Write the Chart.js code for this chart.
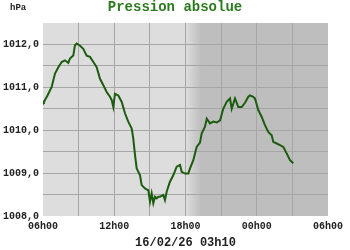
<!DOCTYPE html>
<html>
<head>
<meta charset="utf-8">
<script src="https://cdn.jsdelivr.net/npm/chart.js@4"></script>
<style>
    body { margin: 0; background: #ffffff; }
</style>
</head>
<body>
<canvas id="pressionChart" width="350" height="250"></canvas>
<script>
// Heures écoulées depuis 06h00 (16/02) et pression relevée (hPa)
const heures = [
    0.00, 0.08, 0.40, 0.73, 1.01, 1.29, 1.57, 1.85, 2.13, 2.27,
    2.55, 2.69, 2.84, 3.12, 3.39, 3.68, 3.96, 4.24, 4.52, 4.80,
    5.08, 5.36, 5.64, 5.79, 5.92, 6.06, 6.34, 6.63, 6.91, 7.18,
    7.47, 7.60, 7.75, 7.89, 8.17, 8.31, 8.59, 8.87, 9.01, 9.15,
    9.29, 9.43, 9.58, 9.71, 9.85, 10.13, 10.27, 10.42, 10.69, 10.97,
    11.26, 11.54, 11.68, 11.96, 12.24, 12.38, 12.66, 12.94, 13.22, 13.36,
    13.64, 13.79, 14.06, 14.34, 14.63, 14.91, 15.18, 15.47, 15.75, 15.89,
    16.17, 16.45, 16.73, 17.01, 17.29, 17.43, 17.71, 17.85, 18.13, 18.42,
    18.69, 18.97, 19.26, 19.39, 19.68, 19.96, 20.24, 20.52, 20.80, 21.08
];
const pression = [
    1010.68, 1010.66, 1010.82, 1011.01, 1011.32, 1011.47, 1011.59, 1011.63, 1011.57, 1011.67,
    1011.74, 1011.98, 1012.02, 1011.97, 1011.90, 1011.74, 1011.71, 1011.59, 1011.47, 1011.20,
    1011.05, 1010.89, 1010.78, 1010.70, 1010.54, 1010.85, 1010.81, 1010.66, 1010.39, 1010.20,
    1010.04, 1009.81, 1009.42, 1009.11, 1008.95, 1008.72, 1008.64, 1008.60, 1008.33, 1008.53,
    1008.30, 1008.45, 1008.41, 1008.45, 1008.45, 1008.49, 1008.37, 1008.57, 1008.80, 1008.95,
    1009.15, 1009.19, 1009.03, 1008.99, 1008.99, 1009.11, 1009.30, 1009.61, 1009.71, 1009.92,
    1010.08, 1010.27, 1010.16, 1010.20, 1010.18, 1010.23, 1010.50, 1010.66, 1010.74, 1010.50,
    1010.74, 1010.54, 1010.54, 1010.64, 1010.78, 1010.81, 1010.78, 1010.74, 1010.47, 1010.31,
    1010.12, 1009.96, 1009.88, 1009.73, 1009.69, 1009.65, 1009.61, 1009.46, 1009.30, 1009.23
];
// Étiquettes de l'axe horizontal (toutes les 6 heures)
const etiquettesHeures = ["06h00", "12h00", "18h00", "00h00", "06h00"];

const titre = "Pression absolue";
const unite = "hPa";
const horodatage = "16/02/26 03h10";

// Début de la nuit (heures depuis 06h00) et largeur du dégradé
const debutNuit = 12;
const fonduNuit = 1.3;

const police = "'Liberation Mono', 'DejaVu Sans Mono', monospace";

// Fond gris : clair le jour, plus sombre la nuit
const fondPlugin = {
    id: "fond",
    beforeDraw(chart) {
        const { ctx, chartArea: a, scales } = chart;
        const x1 = scales.x.getPixelForValue(debutNuit);
        const x2 = scales.x.getPixelForValue(debutNuit + fonduNuit);
        const grad = ctx.createLinearGradient(x1, 0, x2, 0);
        grad.addColorStop(0, "#dddddd");
        grad.addColorStop(1, "#bebebe");
        ctx.save();
        ctx.fillStyle = grad;
        ctx.fillRect(a.left, a.top, a.right - a.left, a.bottom - a.top);
        ctx.restore();
    },
    afterDraw(chart) {
        const { ctx } = chart;
        ctx.save();
        ctx.textBaseline = "alphabetic";
        ctx.textAlign = "center";
        ctx.fillStyle = "#2b7a1f";
        ctx.font = "bold 14px " + police;
        ctx.fillText(titre, 175, 11);
        ctx.textAlign = "left";
        ctx.fillStyle = "#222222";
        ctx.font = "bold 9px " + police;
        ctx.fillText(unite, 10, 10);
        ctx.restore();
    }
};

const points = heures.map((h, i) => ({ x: h, y: pression[i] }));

new Chart(document.getElementById("pressionChart"), {
    type: "line",
    data: {
        datasets: [{
            data: points,
            borderColor: "#1b5c0e",
            borderWidth: 2,
            pointRadius: 0,
            tension: 0,
            fill: false
        }]
    },
    options: {
        responsive: false,
        animation: false,
        devicePixelRatio: 1,
        layout: { padding: { top: 23, right: 22, left: 0, bottom: 0 } },
        plugins: {
            legend: { display: false },
            title: { display: false },
            tooltip: { enabled: false }
        },
        scales: {
            x: {
                type: "linear",
                min: 0,
                max: 24,
                afterFit(scale) { scale.height = 34; },
                border: { display: false },
                grid: {
                    drawTicks: false,
                    color: (c) => (c.index === 0 || c.index === 8) ? "rgba(0,0,0,0)" : "#a6a6a6"
                },
                ticks: {
                    stepSize: 3,
                    autoSkip: false,
                    maxRotation: 0,
                    padding: 4,
                    color: "#222222",
                    font: { family: police, size: 10, weight: "bold" },
                    callback: (v) => (v % 6 === 0) ? etiquettesHeures[v / 6] : ""
                },
                title: {
                    display: true,
                    text: horodatage,
                    color: "#222222",
                    padding: { top: 0, bottom: 0 },
                    font: { family: police, size: 12, weight: "bold" }
                }
            },
            y: {
                min: 1008,
                max: 1012.5,
                afterFit(scale) { scale.width = 43; },
                border: { display: false },
                grid: {
                    drawTicks: false,
                    color: (c) => (c.index === 0 || c.index === 9) ? "rgba(0,0,0,0)" : "#a6a6a6"
                },
                ticks: {
                    stepSize: 0.5,
                    padding: 4,
                    color: "#222222",
                    font: { family: police, size: 10, weight: "bold" },
                    callback: (v) => Number.isInteger(v) ? v.toFixed(1).replace(".", ",") : ""
                }
            }
        }
    },
    plugins: [fondPlugin]
});
</script>
</body>
</html>
